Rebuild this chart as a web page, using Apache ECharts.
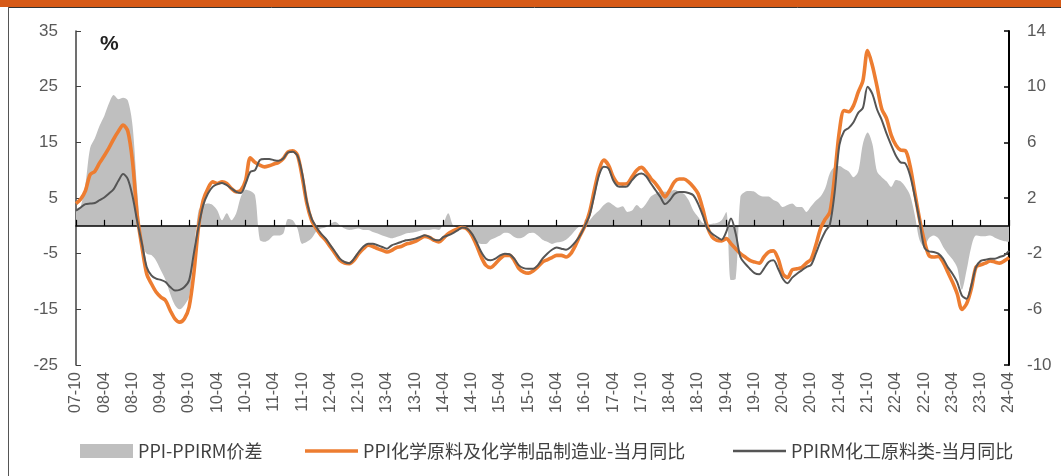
<!DOCTYPE html>
<html>
<head>
<meta charset="utf-8">
<script src="https://cdn.jsdelivr.net/npm/echarts@6/dist/echarts.min.js"></script>
<style>
  html, body { margin: 0; padding: 0; background: #fff; }
  #chart { width: 1061px; height: 476px; }
</style>
</head>
<body>
<div id="chart"></div>
<script>
// monthly labels 07-10 ... 24-04
const startYear = 2007
const startMonth = 10
const monthCount = 199
const categories = []
for (let k = 0; k < monthCount; k++) {
  const m = (startMonth - 1 + k) % 12 + 1
  const y = startYear + Math.floor((startMonth - 1 + k) / 12)
  categories.push(String(y % 100).padStart(2, '0') + '-' + String(m).padStart(2, '0'))
}

const leftTicks = [-25, -15, -5, 5, 15, 25, 35]
const rightTicks = [-10, -6, -2, 2, 6, 10, 14]

// PPI-PPIRM价差 (right axis)
const spread = [
  1.1, 1.4, 3.0, 5.6, 6.3, 7.2, 7.9, 8.8, 9.4, 9.1, 9.2, 9.0, 7.2, 2.5, -1.3, -2.0, -2.1, -2.5, -3.2, -3.9,
  -4.9, -5.7, -6.0, -5.7, -5.1, -2.0, 1.1, 1.5, 1.6, 1.5, 1.1, 0.4, 0.9, 0.4, 0.9, 2.1, 2.6, 2.5, 2.2, -1.0,
  -1.15, -1.0, -0.7, -0.7, -0.55, 0.5, 0.4, -0.2, -1.3, -1.15, -0.9, -0.4, -0.2, -0.1, 0.15, 0.3, 0.05, -0.2, -0.3, -0.25,
  -0.2, -0.3, -0.3, -0.45, -0.55, -0.7, -0.8, -0.9, -0.8, -0.7, -0.55, -0.5, -0.45, -0.35, -0.3, -0.3, -0.25, -0.3, 0.2, 0.9,
  0.05, -0.1, -0.1, -0.4, -0.8, -1.15, -1.3, -1.3, -1.0, -0.85, -0.7, -0.5, -0.55, -0.8, -0.9, -0.8, -0.55, -0.5, -0.7, -1.0,
  -1.15, -1.3, -1.2, -1.15, -1.0, -0.7, -0.3, 0, 0.15, 0.4, 0.8, 1.1, 1.5, 1.7, 1.5, 1.3, 1.4, 1.0, 1.1, 1.5,
  1.25, 1.6, 2.1, 2.3, 2.45, 2.45, 2.45, 2.6, 2.45, 2.3, 1.85, 1.1, 0.65, 0.2, 0.1, 0.15, 0.2, 0.4, 1.0, -3.9,
  -3.8, 2.1, 2.45, 2.5, 2.45, 2.2, 2.1, 2.1, 1.85, 1.7, 1.35, 1.5, 1.6, 1.35, 1.35, 1.0, 1.4, 1.8, 2.1, 2.7,
  3.8, 4.25, 4.3, 4.1, 3.9, 3.5, 3.9, 5.9, 6.7, 5.9, 3.9, 3.5, 3.2, 2.8, 3.3, 3.2, 2.8, 2.2, 0.8, -1.0,
  -1.5, -0.9, -0.7, -0.9, -1.5, -2.0, -2.4, -3.0, -4.6, -3.2, -1.5, -0.7, -0.75, -0.75, -0.7, -0.85, -1.0, -1.1, -1.15
]

// PPI化学原料及化学制品制造业-当月同比 (left axis)
const ppiChem = [
  4.0, 4.8, 6.3, 9.2, 9.8, 11.3, 12.6, 14.0, 15.6, 17.0, 18.1, 17.0, 11.5, 1.8, -3.8, -8.6, -10.4, -11.9, -12.8, -13.4,
  -15.2, -16.7, -17.3, -16.7, -14.6, -8.6, -0.2, 4.6, 6.7, 7.9, 7.6, 7.9, 7.6, 6.7, 6.1, 6.4, 8.2, 12.2, 11.4, 10.9,
  10.6, 10.8, 11.1, 11.4, 12.1, 13.3, 13.5, 12.7, 8.8, 4.0, 1.0, -0.5, -1.7, -2.6, -3.8, -5.0, -6.2, -6.7, -6.8, -6.2,
  -5.0, -4.1, -3.5, -3.7, -4.1, -4.4, -4.7, -4.4, -3.9, -3.7, -3.3, -3.1, -2.8, -2.3, -1.9, -2.1, -2.6, -2.9, -2.2, -1.4,
  -0.9, -0.5, -0.3, -0.6, -1.7, -3.5, -5.6, -7.1, -7.5, -6.8, -5.9, -5.3, -5.3, -6.2, -7.7, -8.3, -8.5, -8.1, -7.4, -6.5,
  -6.1, -5.7, -5.3, -5.3, -5.6, -5.0, -3.5, -1.7, 0.0, 2.5, 6.4, 10.0, 11.8, 10.9, 8.8, 7.6, 7.5, 7.6, 8.8, 10.0,
  10.5, 9.7, 8.5, 7.6, 6.4, 5.2, 6.4, 7.9, 8.4, 8.4, 7.9, 7.0, 5.8, 3.1, -0.2, -2.0, -2.6, -2.7, -2.3, -3.2,
  -4.1, -5.0, -5.6, -6.2, -6.5, -6.7, -5.6, -4.7, -4.5, -5.9, -8.6, -9.3, -7.9, -7.7, -7.5, -6.7, -6.0, -3.5, -0.5, 1.2,
  2.5, 9.0, 17.0, 20.7, 20.5, 21.6, 24.0, 26.1, 31.5, 28.8, 25.0, 21.0, 19.3, 16.3, 14.5, 13.6, 13.5, 10.8, 6.0, 1.3,
  -2.6, -5.3, -5.6, -5.5, -6.5, -8.3, -10.1, -12.2, -15.0, -14.0, -11.3, -7.4, -7.0, -6.7, -6.3, -6.5, -6.7, -6.3, -5.7
]

// PPIRM化工原料类-当月同比 (left axis)
const ppirmChem = [
  2.7, 3.3, 3.9, 4.0, 4.1, 4.6, 5.1, 5.8, 6.6, 8.1, 9.3, 8.4, 5.3, 0.8, -3.2, -7.4, -8.9, -9.5, -9.7, -10.1,
  -11.0, -11.6, -11.5, -11.0, -9.8, -5.0, -0.2, 3.7, 5.8, 7.0, 7.5, 7.7, 7.3, 6.7, 6.1, 5.9, 7.6, 9.7, 10.0, 11.8,
  12.0, 12.0, 11.8, 11.7, 12.1, 13.2, 13.3, 12.6, 9.4, 4.3, 1.3, -0.2, -1.4, -2.3, -3.5, -4.7, -5.9, -6.5, -6.7, -5.9,
  -4.7, -3.7, -3.2, -3.2, -3.5, -3.8, -4.1, -3.5, -3.2, -2.9, -2.6, -2.5, -2.3, -2.0, -1.7, -2.0, -2.5, -2.6, -2.0, -1.7,
  -1.3, -0.8, -0.3, -0.5, -1.4, -2.9, -4.7, -5.9, -6.2, -5.9, -5.3, -5.0, -5.1, -5.9, -7.1, -7.6, -7.7, -7.7, -7.1, -5.9,
  -5.0, -4.3, -3.9, -4.1, -4.3, -3.8, -2.9, -1.7, 0.0, 1.9, 5.5, 9.1, 10.6, 10.3, 8.2, 7.1, 7.0, 7.1, 8.2, 9.1,
  9.4, 8.9, 7.6, 6.4, 5.2, 3.9, 4.6, 5.7, 6.1, 6.1, 5.9, 5.5, 4.0, 1.9, -0.5, -1.4, -2.0, -2.5, -1.1, 1.3,
  -1.4, -5.6, -6.8, -7.7, -8.5, -8.7, -7.7, -6.5, -6.2, -7.7, -9.5, -10.3, -9.3, -8.6, -8.0, -7.4, -7.0, -5.0, -2.8, -1.0,
  0.3, 6.0, 14.5, 17.0, 17.6, 18.6, 20.3, 21.2, 25.0, 23.7, 20.9, 19.0, 16.6, 14.5, 12.6, 11.4, 11.2, 9.1, 5.3, 1.0,
  -3.8, -4.6, -4.7, -5.0, -5.9, -7.4, -8.6, -10.1, -12.5, -13.1, -10.7, -7.4, -6.3, -6.1, -5.9, -5.9, -5.6, -5.3, -4.5
]

const names = ['PPI-PPIRM价差', 'PPI化学原料及化学制品制造业-当月同比', 'PPIRM化工原料类-当月同比']

const chart = echarts.init(document.getElementById('chart'))

const labelFont = 'Liberation Sans, Arial, sans-serif'
const legendText = {
  fontSize: 18,
  color: '#404040',
  fontFamily: 'Noto Sans CJK SC, sans-serif'
}

const option = {
  animation: false,
  backgroundColor: '#fff',
  grid: {
    left: 76,
    right: 52,
    top: 31,
    bottom: 111,
    containLabel: false,
    outerBoundsMode: 'none'
  },
  legend: [
    {
      data: [{ name: names[0], icon: 'rect' }],
      left: 80,
      top: 442,
      padding: 0,
      itemWidth: 53,
      itemHeight: 14,
      textStyle: legendText,
      itemStyle: { borderWidth: 0 }
    },
    {
      data: [{ name: names[1], icon: 'rect' }],
      left: 305,
      top: 442,
      padding: 0,
      itemWidth: 53,
      itemHeight: 3.5,
      textStyle: legendText,
      itemStyle: { borderWidth: 0 }
    },
    {
      data: [{ name: names[2], icon: 'rect' }],
      left: 733,
      top: 442,
      padding: 0,
      itemWidth: 53,
      itemHeight: 2.5,
      textStyle: legendText,
      itemStyle: { borderWidth: 0 }
    }
  ],
  xAxis: [
    {
      type: 'category',
      data: categories,
      boundaryGap: false,
      z: 3,
      axisLine: { onZero: true, lineStyle: { color: '#000', width: 1.5 } },
      axisTick: { inside: true, length: 6, interval: 5, lineStyle: { color: '#000', width: 1.2 } },
      axisLabel: { show: false }
    },
    {
      type: 'category',
      data: categories,
      boundaryGap: false,
      position: 'bottom',
      axisLine: { show: false, onZero: false },
      axisTick: { show: false },
      axisLabel: {
        interval: 5,
        rotate: 90,
        margin: 7,
        fontSize: 16,
        color: '#595959',
        fontFamily: labelFont
      }
    }
  ],
  yAxis: [
    {
      type: 'value',
      min: -25,
      max: 35,
      splitLine: { show: false },
      axisLine: { show: true, onZero: false, lineStyle: { color: '#404040', width: 1.5 } },
      axisTick: { show: true, inside: true, length: 5, customValues: leftTicks, lineStyle: { color: '#404040' } },
      axisLabel: {
        customValues: leftTicks,
        margin: 18,
        fontSize: 17,
        color: '#595959',
        fontFamily: labelFont
      }
    },
    {
      type: 'value',
      min: -10,
      max: 14,
      position: 'right',
      splitLine: { show: false },
      axisLine: { show: true, onZero: false, lineStyle: { color: '#000', width: 2 } },
      axisTick: { show: true, inside: true, length: 5, customValues: rightTicks, lineStyle: { color: '#000', width: 1.5 } },
      axisLabel: {
        customValues: rightTicks,
        margin: 18,
        fontSize: 17,
        color: '#595959',
        fontFamily: labelFont
      }
    }
  ],
  graphic: [
    { type: 'rect', left: 0, top: 0, shape: { width: 1061, height: 7 }, style: { fill: '#D65A17' } },
    { type: 'line', shape: { x1: 8, y1: 7.5, x2: 1061, y2: 7.5 }, style: { stroke: '#333', lineWidth: 1 } },
    { type: 'line', shape: { x1: 8.5, y1: 7, x2: 8.5, y2: 476 }, style: { stroke: '#555', lineWidth: 1 } },
    {
      type: 'text',
      left: 100,
      top: 34,
      style: { text: '%', fontSize: 21, fontWeight: 'bold', fill: '#222', fontFamily: labelFont }
    }
  ],
  series: [
    {
      name: names[0],
      type: 'line',
      yAxisIndex: 1,
      data: spread,
      smooth: 0.3,
      showSymbol: false,
      symbol: 'none',
      color: '#BFBFBF',
      lineStyle: { width: 0 },
      areaStyle: { color: '#BFBFBF', opacity: 1 },
      z: 1
    },
    {
      name: names[1],
      type: 'line',
      yAxisIndex: 0,
      data: ppiChem,
      smooth: 0.3,
      showSymbol: false,
      symbol: 'none',
      color: '#ED7D31',
      lineStyle: { width: 3.6, color: '#ED7D31' }
    },
    {
      name: names[2],
      type: 'line',
      yAxisIndex: 0,
      data: ppirmChem,
      smooth: 0.3,
      showSymbol: false,
      symbol: 'none',
      color: '#555555',
      lineStyle: { width: 2, color: '#555555' }
    }
  ]
}

chart.setOption(option)
</script>
</body>
</html>
